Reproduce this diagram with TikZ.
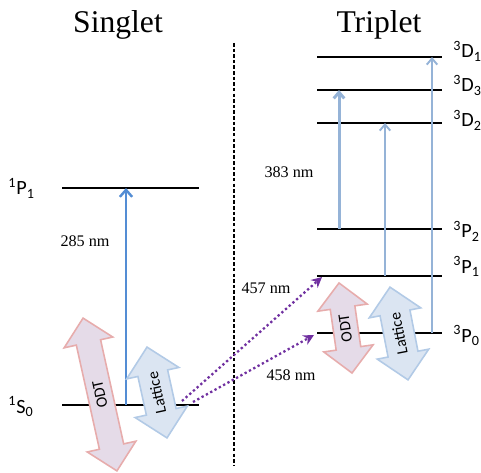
\documentclass[tikz,border=0pt]{standalone}
\usepackage{fontspec}
\setmainfont{Liberation Serif}
\newfontfamily\calibri{Carlito}
\usetikzlibrary{arrows.meta, positioning, shapes.arrows}
\definecolor{odtfill}{RGB}{229,219,232}
\definecolor{odtline}{RGB}{231,172,172}
\definecolor{latfill}{RGB}{219,229,242}
\definecolor{latline}{RGB}{178,202,230}
\definecolor{uvblue}{RGB}{84,141,212}
\definecolor{paleblue}{RGB}{149,179,215}
\definecolor{mypurple}{RGB}{112,48,160}
\tikzset{
  lvl/.style={line width=1.6pt, black},
  term/.style={font=\calibri\fontsize{11.5}{12}\selectfont, inner sep=0pt},
  wl/.style={font=\fontsize{9.2}{10}\selectfont, inner sep=0pt},
  ttl/.style={font=\fontsize{18}{20}\selectfont, inner sep=0pt},
  beam/.style={double arrow, draw=#1line, fill=#1fill, line width=0.9pt,
               font=\calibri\fontsize{9}{10}\selectfont,
               text height=1.5ex, text depth=0.25ex, inner xsep=0pt},
}

\begin{document}
\begin{tikzpicture}[
      uv/.style ={uvblue, line width=1.4pt, -{Straight Barb[length=4pt,width=7pt]}},
      ir/.style ={paleblue, line width=#1, -{Straight Barb[length=3.5pt,width=6pt]}},
      clk/.style={mypurple, line width=1.3pt, dash pattern=on 1.3pt off 1.5pt,
                  -{Stealth[length=6pt,width=6pt]}}]
    \useasboundingbox (0,0) rectangle (9.62,9.44);

    % ── TITLES ──────────────────────────────────────────────
    \node[ttl, anchor=base] (sing) at (2.36,8.78) {Singlet};
    \node[ttl, anchor=base] (trip) at (7.58,8.78) {Triplet};
    \coordinate (cuttop) at (4.68,8.58); \coordinate (cutbot) at (4.68,0.14);
    \draw[line width=0.6pt, dash pattern=on 2pt off 1.2pt] (cuttop) -- (cutbot);

    % ── SINGLET ─────────────────────────────────────────────
    \coordinate (P1w) at (1.24,5.68); \coordinate (P1e) at (3.98,5.68);
    \coordinate (S0w) at (1.24,1.34); \coordinate (S0e) at (3.98,1.34);
    \draw[lvl] (P1w) -- (P1e);
    \draw[lvl] (S0w) -- (S0e);
    \node[term, anchor=base west] (lP1) at (0.16,5.54) {\textsuperscript{1}P\textsubscript{1}};
    \node[term, anchor=base west] (lS0) at (0.16,1.18) {\textsuperscript{1}S\textsubscript{0}};
    \coordinate (uvlo) at (2.52,1.34); \coordinate (uvhi) at (2.52,5.68);
    \draw[uv] (uvlo) -- (uvhi);
    \node[wl] (w285) at (1.70,4.62) {285 nm};

    % ── TRIPLET ─────────────────────────────────────────────
    \foreach \n/\y in {tD1/8.30, tD3/7.64, tD2/6.98, tP2/4.86, tP1/3.92, tP0/2.78}
      \draw[lvl] (6.34,\y) coordinate (\n w) -- (8.84,\y) coordinate (\n e);
    \node[term, anchor=base west] (lD1) at (9.06,8.28) {\textsuperscript{3}D\textsubscript{1}};
    \node[term, anchor=base west] (lD3) at (9.06,7.60) {\textsuperscript{3}D\textsubscript{3}};
    \node[term, anchor=base west] (lD2) at (9.06,6.90) {\textsuperscript{3}D\textsubscript{2}};
    \node[term, anchor=base west] (lP2) at (9.06,4.68) {\textsuperscript{3}P\textsubscript{2}};
    \node[term, anchor=base west] (lP1) at (9.06,3.98) {\textsuperscript{3}P\textsubscript{1}};
    \node[term, anchor=base west] (lP0) at (9.06,2.60) {\textsuperscript{3}P\textsubscript{0}};
    % 383 nm lines
    \coordinate (a2) at (6.78,4.86); \coordinate (b3) at (6.78,7.64);
    \coordinate (a1) at (7.70,3.92); \coordinate (b2) at (7.70,6.98);
    \coordinate (a0) at (8.64,2.78); \coordinate (b1) at (8.64,8.30);
    \draw[ir=1.7pt] (a2) -- (b3);
    \draw[ir=1.1pt] (a1) -- (b2);
    \draw[ir=1.1pt] (a0) -- (b1);
    \node[wl] (w383) at (5.78,6.00) {383 nm};

    % ── TRAPS ───────────────────────────────────────────────
    \node[beam=odt, rotate=102.5, minimum height=3.13cm, minimum width=0.94cm,
          double arrow head extend=0.25cm, inner ysep=2.6pt] (odtS) at (2.00,1.55) {ODT};
    \node[beam=lat, rotate=102.4, minimum height=1.86cm, minimum width=1.02cm,
          double arrow head extend=0.23cm, inner ysep=4.2pt] (latS) at (3.14,1.59) {Lattice};
    \node[beam=odt, rotate=98.2, minimum height=1.82cm, minimum width=0.94cm,
          double arrow head extend=0.25cm, inner ysep=2.6pt] (odtT) at (6.91,2.88) {ODT};
    \node[beam=lat, rotate=101, minimum height=1.89cm, minimum width=1.00cm,
          double arrow head extend=0.22cm, inner ysep=4.2pt] (latT) at (7.98,2.77) {Lattice};

    % ── CLOCK LINES ─────────────────────────────────────────
    \coordinate (c7a) at (3.64,1.42); \coordinate (c7b) at (6.44,3.90);
    \coordinate (c8a) at (3.86,1.40); \coordinate (c8b) at (6.28,2.74);
    \draw[clk] (c7a) -- (c7b);
    \draw[clk] (c8a) -- (c8b);
    \node[wl] (w457) at (5.32,3.68) {457 nm};
    \node[wl] (w458) at (5.82,1.94) {458 nm};
  \end{tikzpicture}
\end{document}
